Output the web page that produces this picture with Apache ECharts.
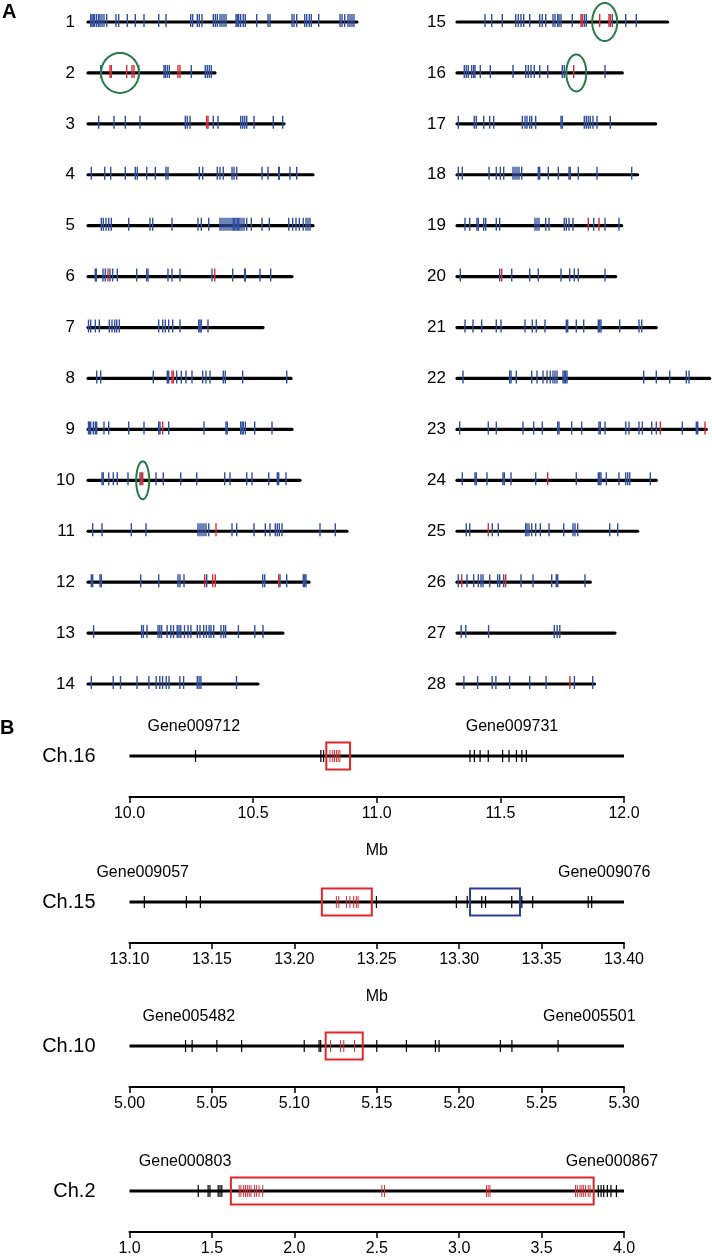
<!DOCTYPE html>
<html><head><meta charset="utf-8">
<script src="https://cdn.jsdelivr.net/npm/echarts/dist/echarts.min.js"></script>
<style>html,body{margin:0;padding:0;background:#fff}#c{width:712px;height:1259px}</style>
</head><body><div id="c"></div>
<script>
// ---------- Panel A data (positions in Mb-like units along each chromosome) ----------
const chromLabels = ['1','2','3','4','5','6','7','8','9','10','11','12','13','14','15','16','17','18','19','20','21','22','23','24','25','26','27','28'];
const chromLengths = [26.9,12.7,19.6,22.5,22.5,20.4,17.5,20.3,20.4,21.2,25.9,22.1,19.5,17.0,21.07,16.53,19.87,18.07,16.47,15.87,19.93,25.27,24.93,19.93,18.07,13.33,15.8,13.75];
const blueTicks = [
  [0.27,0.4,0.53,0.67,0.87,1.07,1.2,1.4,1.6,1.87,2.8,3.07,3.93,4.73,5.6,7.07,7.8,10.27,10.47,10.93,11.13,11.4,12.53,12.73,12.93,13.2,13.4,13.6,13.8,14.8,14.93,15.07,15.27,15.53,15.73,16.87,18.0,18.2,20.4,20.6,20.87,21.67,21.87,22.13,22.33,23.07,25.2,25.4,25.67,26.0,26.2,26.4,26.6],
  [1.27,5.07,7.6,7.73,7.93,8.13,10.33,11.73,11.93,12.13,12.33],
  [1.07,2.6,3.73,5.2,9.73,9.93,10.2,12.53,13.0,15.27,15.47,15.67,15.87,16.6,18.53,19.47],
  [0.33,1.67,2.27,3.73,4.73,4.93,5.87,6.73,7.8,8.0,11.13,11.47,12.93,13.2,13.53,14.4,14.6,14.87,17.4,18.0,19.07,19.13,20.2,20.87],
  [1.33,1.53,1.8,2.07,2.33,4.07,6.2,6.47,8.4,11.0,11.33,12.07,13.2,13.4,13.6,13.8,14.0,14.2,14.4,14.53,14.67,14.8,14.93,15.07,15.2,15.4,15.6,15.87,16.33,17.4,18.13,20.07,20.47,20.8,21.13,21.53,21.8,22.0,22.2],
  [0.73,0.83,1.5,1.73,2.2,2.47,2.93,4.87,5.87,6.0,8.0,8.4,9.2,12.4,14.47,15.67,15.73,17.2,18.27],
  [0.05,0.27,0.73,1.13,2.13,2.4,2.67,2.87,3.13,7.07,7.47,7.73,8.07,8.47,9.2,11.07,11.2,11.33,12.0],
  [0.87,1.27,6.53,7.93,8.07,8.87,9.33,9.8,10.4,11.47,11.8,12.2,13.53,13.73,15.47,19.87],
  [0.05,0.13,0.27,0.53,0.73,0.87,1.6,2.07,4.07,5.6,7.07,7.2,8.07,11.6,13.8,13.93,15.27,15.4,15.53,15.73,16.67,18.4],
  [1.4,1.53,2.07,2.53,2.93,4.0,5.2,6.8,7.53,9.27,10.87,13.67,14.2,15.87,16.4,18.07,18.93,19.07,19.8],
  [0.47,1.4,4.33,5.8,11.0,11.2,11.4,11.6,11.8,12.07,14.4,14.87,16.6,17.73,18.2,18.73,18.93,19.13,19.4,23.2,24.73],
  [0.33,0.47,1.2,1.33,5.27,7.07,9.0,9.2,9.6,11.87,17.47,17.67,19.2,19.87,21.53,21.67,21.8],
  [0.56,5.36,5.54,5.9,7.0,7.18,7.36,7.91,8.28,8.55,8.92,9.1,9.28,9.65,10.0,10.29,10.93,11.2,11.57,11.84,12.11,12.3,12.57,13.3,13.57,13.76,15.04,16.68,17.5],
  [0.33,2.52,3.25,4.9,6.09,6.82,7.18,7.46,7.82,8.1,9.19,9.56,10.93,11.11,11.29,14.85],
  [2.8,3.47,4.53,5.87,6.13,6.4,6.67,7.27,8.27,8.53,8.87,9.6,9.8,10.07,10.2,10.4,11.53,12.73,12.93,15.53,16.87,17.93],
  [0.73,0.93,1.13,1.47,1.67,1.8,2.33,3.33,5.6,6.87,7.13,7.4,7.73,8.27,9.07,10.53,10.73,14.8],
  [0.13,1.73,1.93,2.67,3.27,3.67,6.53,6.8,7.0,7.27,7.47,7.87,10.4,10.53,12.73,12.93,13.13,13.33,13.6,14.0,15.33],
  [0.13,0.53,3.2,3.93,4.33,4.67,5.6,5.8,6.0,6.2,6.47,8.13,8.27,9.13,10.13,11.2,11.33,12.13,14.0,17.47],
  [0.8,1.27,2.0,2.13,2.67,2.87,3.93,4.27,7.8,8.0,8.2,8.87,9.2,10.73,10.93,11.2,11.6,13.67,14.8,16.2],
  [0.33,4.27,5.47,7.27,8.13,10.4,11.27,11.73,12.13,14.8],
  [0.8,1.6,2.47,3.93,4.4,6.8,7.53,7.93,8.8,10.93,11.07,11.93,12.67,14.13,14.27,14.4,16.27,18.2,18.47],
  [0.6,5.27,5.4,5.93,7.47,8.0,8.6,9.0,9.33,9.6,9.8,10.0,10.6,10.73,10.87,11.0,18.67,19.93,21.27,22.93,23.2],
  [0.27,3.13,3.93,6.6,7.67,8.53,10.07,10.2,11.47,12.47,14.2,14.33,14.8,16.87,17.2,18.2,18.53,19.47,19.93,22.53,23.93,24.07],
  [0.53,1.8,1.93,3.0,4.6,4.73,5.4,7.87,11.93,14.13,14.27,14.4,14.93,16.2,16.87,17.07,17.27,19.33],
  [0.93,1.27,3.53,4.13,6.87,7.0,7.2,7.47,7.87,8.33,9.2,10.67,11.6,11.8,12.07,15.27,16.07],
  [0.13,1.0,1.67,2.13,2.4,2.6,3.27,4.07,4.27,4.67,6.4,7.6,9.47,9.93,10.07,12.8],
  [0.42,0.88,3.16,9.73,10.01,10.28],
  [0.69,2.06,3.52,3.89,5.26,7.27,8.91,11.74,13.57]
];
const redTicks = [
  [],[2.2,2.33,3.87,4.4,4.6,9.0,9.2],[11.87,12.0],[],[],[2.0,12.67],[],[8.4,8.53],[7.47],[5.33,5.47],[12.8],[11.67,12.47,12.73,19.07],[],[],
  [12.4,12.53,14.27,15.2,15.33],[11.67],[],[],[13.13,14.2],[4.47],[],[],[20.33,24.8],[9.07],[3.13],[0.47,4.87],[],[11.29]
];
const circleChroms = [2,10,15,16];
const circlePositions = [3.2,5.47,14.77,11.93];

// ---------- Panel B data ----------
const trackNames = ['Ch.16','Ch.15','Ch.10','Ch.2'];
const trackMin = [10.0,13.10,5.00,1.0];
const trackMax = [12.0,13.40,5.30,4.0];
const trackInterval = [0.5,0.05,0.05,0.5];
const trackDecimals = [1,2,2,1];
const trackAxisName = ['Mb','Mb','',''];
const trackBlackTicks = [
  [10.267,10.774,10.785,11.377,11.395,11.418,11.451,11.509,11.535,11.565,11.587,11.605],
  [13.109,13.1345,13.143,13.2498,13.2983,13.3049,13.3137,13.316,13.3319,13.338,13.3446,13.3783,13.3804],
  [5.034,5.038,5.053,5.068,5.106,5.115,5.116,5.15,5.168,5.1856,5.1878,5.225,5.232,5.26],
  [1.417,1.477,1.488,1.538,1.549,1.56,3.844,3.861,3.877,3.899,3.921,3.954]
];
const trackRedTicks = [
  [10.811,10.822,10.829,10.837,10.844,10.851],
  [13.2255,13.227,13.2316,13.2337,13.236,13.2376,13.2387],
  [5.122,5.128,5.13,5.1365],
  [1.665,1.676,1.692,1.704,1.715,1.726,1.737,1.758,1.77,1.786,1.808,2.531,2.547,3.165,3.176,3.187,3.706,3.717,3.733,3.744,3.755,3.767,3.783,3.794]
];
const redBoxes = [[10.796,10.892],[13.2167,13.247],[5.119,5.1415],[1.615,3.816]];
const blueBoxes = [[],[13.3066,13.3369],[],[]];
const geneLeftNames = ['Gene009712','Gene009057','Gene005482','Gene000803'];
const geneLeftPos = [10.26,13.108,5.036,1.337];
const geneRightNames = ['Gene009731','Gene009076','Gene005501','Gene000867'];
const geneRightPos = [11.547,13.388,5.279,3.927];

// ---------- styles / layout ----------
const FONT = '"Liberation Sans", Arial, Helvetica, sans-serif';
const BLUE = '#31509f', RED = '#dc2b33', GREEN = '#2a7a48', BOXRED = '#e1262c', BOXBLUE = '#2b3f97';
const circleRadii = [[19,20],[6.5,19],[12.5,19],[10,18.5]];
const trackY = [756, 902, 1046, 1191];

const chart = echarts.init(document.getElementById('c'), null, {renderer:'canvas'});

const grids = [
  {left:88, top:22, width:270, height:662, outerBoundsMode:'none'},
  {left:457, top:22, width:255, height:662, outerBoundsMode:'none'}
];
const xAxes = [
  {gridIndex:0, type:'value', min:0, max:27, show:false},
  {gridIndex:1, type:'value', min:0, max:25.5, show:false}
];
const yLabelCommon = {fontSize:17, color:'#000', fontFamily:FONT};
const yAxes = [
  {gridIndex:0, type:'value', min:1, max:14, interval:1, inverse:true, axisLine:{show:false}, axisTick:{show:false}, splitLine:{show:false},
   axisLabel:Object.assign({margin:13, formatter:v=>chromLabels[v-1]}, yLabelCommon)},
  {gridIndex:1, type:'value', min:1, max:14, interval:1, inverse:true, axisLine:{show:false}, axisTick:{show:false}, splitLine:{show:false},
   axisLabel:Object.assign({margin:11, formatter:v=>chromLabels[v+13]}, yLabelCommon)}
];
const series = [];

// Panel A series
for (let g = 0; g < 2; g++) {
  const chromData = [], blueData = [], redData = [], circData = [];
  for (let r = 0; r < 14; r++) {
    const ci = g*14 + r;
    chromData.push([chromLengths[ci], r+1]);
    blueTicks[ci].forEach(p => blueData.push([p, r+1]));
    redTicks[ci].forEach(p => redData.push([p, r+1]));
  }
  circleChroms.forEach((c, i) => {
    if ((c-1) >= g*14 && (c-1) < g*14+14) circData.push([circlePositions[i], c - g*14, i]);
  });
  series.push({type:'custom', xAxisIndex:g, yAxisIndex:g, silent:true, data:chromData,
    renderItem:(p, api) => {
      const a = api.coord([0, api.value(1)]), b = api.coord([api.value(0), api.value(1)]);
      return {type:'line', shape:{x1:a[0], y1:a[1], x2:b[0], y2:b[1]}, style:{stroke:'#000', lineWidth:3.2, lineCap:'round'}};
    }});
  const tickFn = (color) => (p, api) => {
    const c = api.coord([api.value(0), api.value(1)]);
    return {type:'line', shape:{x1:c[0], y1:c[1]-8, x2:c[0], y2:c[1]+5}, style:{stroke:color, lineWidth:1.4}};
  };
  series.push({type:'custom', xAxisIndex:g, yAxisIndex:g, silent:true, data:blueData, renderItem:tickFn(BLUE)});
  series.push({type:'custom', xAxisIndex:g, yAxisIndex:g, silent:true, data:redData, renderItem:tickFn(RED)});
  series.push({type:'custom', xAxisIndex:g, yAxisIndex:g, silent:true, data:circData,
    renderItem:(p, api) => {
      const c = api.coord([api.value(0), api.value(1)]);
      const rr = circleRadii[api.value(2)];
      const pts = [];
      for (let k = 0; k < 64; k++) { const t = k/64*Math.PI*2; pts.push([c[0]+rr[0]*Math.cos(t), c[1]+rr[1]*Math.sin(t)]); }
      return {type:'polygon', shape:{points:pts}, style:{fill:'none', stroke:GREEN, lineWidth:2}};
    }});
}

// Panel B
for (let k = 0; k < 4; k++) {
  const gi = k + 2;
  grids.push({left:129.5, width:494.5, top:trackY[k]-41, height:82, outerBoundsMode:'none'});
  const dec = trackDecimals[k];
  xAxes.push({gridIndex:gi, type:'value', min:trackMin[k], max:trackMax[k], interval:trackInterval[k],
    axisLine:{show:true, onZero:false, lineStyle:{color:'#000', width:2}},
    axisTick:{show:true, length:6, lineStyle:{color:'#000', width:1.5}},
    axisLabel:{fontSize:16, color:'#000', fontFamily:FONT, margin:9, formatter:v=>v.toFixed(dec)},
    splitLine:{show:false},
    name:trackAxisName[k], nameLocation:'middle', nameGap:46,
    nameTextStyle:{fontSize:16, color:'#000', fontFamily:FONT}});
  yAxes.push({gridIndex:gi, type:'value', min:0, max:1, show:false});
  const ax = {xAxisIndex:gi, yAxisIndex:gi, silent:true};
  series.push(Object.assign({type:'custom', data:[[trackMin[k], trackMax[k]]],
    renderItem:(p, api) => {
      const a = api.coord([api.value(0), 0.5]), b = api.coord([api.value(1), 0.5]);
      return {type:'line', shape:{x1:a[0], y1:a[1], x2:b[0], y2:b[1]}, style:{stroke:'#000', lineWidth:3.2}};
    }}, ax));
  const tfn = (color, w) => (p, api) => {
    const c = api.coord([api.value(0), 0.5]);
    return {type:'line', shape:{x1:c[0], y1:c[1]-6, x2:c[0], y2:c[1]+6}, style:{stroke:color, lineWidth:w}};
  };
  series.push(Object.assign({type:'custom', data:trackBlackTicks[k].map(v=>[v]), renderItem:tfn('#000',1.2)}, ax));
  series.push(Object.assign({type:'custom', data:trackRedTicks[k].map(v=>[v]), renderItem:tfn(RED,1)}, ax));
  const boxFn = (color) => (p, api) => {
    const a = api.coord([api.value(0), 0.5]), b = api.coord([api.value(1), 0.5]);
    return {type:'rect', shape:{x:a[0], y:a[1]-13.5, width:b[0]-a[0], height:27}, style:{fill:'none', stroke:color, lineWidth:2}};
  };
  series.push(Object.assign({type:'custom', data:[redBoxes[k]], renderItem:boxFn(BOXRED)}, ax));
  if (blueBoxes[k].length) series.push(Object.assign({type:'custom', data:[blueBoxes[k]], renderItem:boxFn(BOXBLUE)}, ax));
  const geneNames = [geneLeftNames[k], geneRightNames[k]];
  series.push(Object.assign({type:'custom', data:[[geneLeftPos[k]],[geneRightPos[k]]],
    renderItem:(p, api) => {
      const c = api.coord([api.value(0), 0.5]);
      return {type:'text', style:{text:geneNames[p.dataIndex], x:c[0], y:c[1]-29, align:'center', verticalAlign:'middle', fill:'#000', fontSize:16, fontFamily:FONT}};
    }}, ax));
  series.push(Object.assign({type:'custom', data:[[trackMin[k]]],
    renderItem:(p, api) => {
      const c = api.coord([api.value(0), 0.5]);
      return {type:'text', style:{text:trackNames[k], x:c[0]-34, y:c[1], align:'right', verticalAlign:'middle', fill:'#000', fontSize:20, fontFamily:FONT}};
    }}, ax));
}

chart.setOption({
  animation:false,
  backgroundColor:'#fff',
  grid:grids, xAxis:xAxes, yAxis:yAxes, series:series,
  graphic:[
    {type:'text', left:2, top:2, style:{text:'A', fontSize:20, fontWeight:'bold', fontFamily:FONT, fill:'#000'}},
    {type:'text', left:0, top:718, style:{text:'B', fontSize:20, fontWeight:'bold', fontFamily:FONT, fill:'#000'}}
  ]
});
</script></body></html>
